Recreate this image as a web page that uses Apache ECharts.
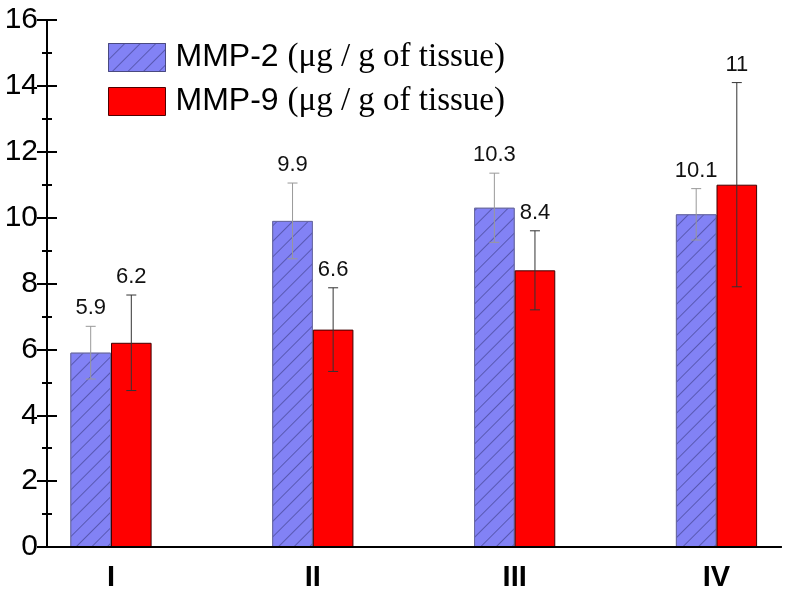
<!DOCTYPE html>
<html><head><meta charset="utf-8">
<script src="https://cdn.jsdelivr.net/npm/echarts@6/dist/echarts.min.js"></script>
<style>html,body{margin:0;padding:0;background:#fff}#c{width:786px;height:603px}</style>
</head><body><div id="c"></div>
<script>
const categories = ['I', 'II', 'III', 'IV'];
const mmp2 = [5.9, 9.9, 10.3, 10.1];
const mmp9 = [6.2, 6.6, 8.4, 11];
const mmp2Err = [0.8, 1.15, 1.05, 0.78];
const mmp9Err = [1.45, 1.27, 1.2, 3.1];
const mmp2Labels = ['5.9', '9.9', '10.3', '10.1'];
const mmp9Labels = ['6.2', '6.6', '8.4', '11'];
const yTicks = [0, 16, 2];

const BW = 40.6;
const chart = echarts.init(document.getElementById('c'), null, {renderer: 'canvas'});

function errSeries(name, vals, errs, labels, side, color) {
  return {
    type: 'custom', name: name + '_err', xAxisIndex: 0, yAxisIndex: 0, z: 5,
    data: vals.map((v, i) => [i, v, errs[i], labels[i]]),
    renderItem: function (params, api) {
      const i = api.value(0), v = api.value(1), e = api.value(2);
      const top = api.coord([i, v + e]);
      const bot = api.coord([i, v - e]);
      const x = top[0] + side * BW / 2;
      const style = {stroke: color, lineWidth: 1};
      return {type: 'group', children: [
        {type: 'line', shape: {x1: x, y1: top[1], x2: x, y2: bot[1]}, style},
        {type: 'line', shape: {x1: x - 5, y1: top[1], x2: x + 5, y2: top[1]}, style},
        {type: 'line', shape: {x1: x - 5, y1: bot[1], x2: x + 5, y2: bot[1]}, style},
        {type: 'text', x: x, y: top[1] - 7, style: {text: labels[params.dataIndex], fill: '#111',
          font: '22px "Liberation Sans", Arial, sans-serif', align: 'center', verticalAlign: 'bottom'}}
      ]};
    }
  };
}

const hatch = {symbol: 'rect', symbolSize: 1, dashArrayX: [1, 0], dashArrayY: [1, 10],
  rotation: -Math.PI / 4, color: 'rgba(70,70,150,0.7)', backgroundColor: '#8282f5'};

const tickStyle = {color: '#000', width: 2};

chart.setOption({
  animation: false,
  legend: {
    orient: 'vertical', left: 103, top: 36, itemWidth: 57, itemHeight: 28, itemGap: 11,
    icon: 'rect',
    data: [
      {name: 'MMP-2', itemStyle: {color: '#8282f5', borderColor: '#4a4a80', borderWidth: 1, decal: hatch}},
      {name: 'MMP-9', itemStyle: {color: '#ff0000', borderColor: '#500000', borderWidth: 1}}
    ],
    formatter: n => '{a|' + n + ' }{b|(μg / g of tissue)}',
    textStyle: {
      padding: [0, 0, 0, 5], lineHeight: 30,
      rich: {
        a: {fontFamily: '"Liberation Sans", Arial, sans-serif', fontSize: 32, color: '#000', lineHeight: 30},
        b: {fontFamily: '"Liberation Serif", "Times New Roman", serif', fontSize: 33, color: '#000', lineHeight: 30}
      }
    }
  },
  grid: [
    {left: 111, right: 69.5, top: 20, bottom: 56},
    {left: 47, right: 5, top: 20, bottom: 56}
  ],
  xAxis: [
    {type: 'category', gridIndex: 0, data: categories, boundaryGap: false,
     axisLine: {show: false}, axisTick: {show: false},
     axisLabel: {fontSize: 29, fontWeight: 'bold', color: '#000', margin: 16,
       fontFamily: '"Liberation Sans Narrow", "Liberation Sans", Arial, sans-serif'}},
    {type: 'value', gridIndex: 1, min: 0, max: 1, position: 'bottom', z: 10,
     axisLine: {show: true, lineStyle: {color: '#000', width: 2}}, axisTick: {show: false},
     axisLabel: {show: false}, splitLine: {show: false}},
    {type: 'value', gridIndex: 1, min: 0, max: 1, position: 'top', z: 10,
     axisLine: {show: true, lineStyle: {color: '#000', width: 2}}, axisTick: {show: false},
     axisLabel: {show: false}, splitLine: {show: false}}
  ],
  yAxis: [
    {type: 'value', gridIndex: 0, min: yTicks[0], max: yTicks[1], interval: yTicks[2], show: false},
    {type: 'value', gridIndex: 1, min: yTicks[0], max: yTicks[1], interval: yTicks[2], position: 'left', z: 10,
     axisLine: {show: true, lineStyle: {color: '#000', width: 2}},
     axisTick: {show: true, inside: true, length: 10, lineStyle: tickStyle},
     minorTick: {show: true, splitNumber: 2, length: 5, lineStyle: tickStyle},
     axisLabel: {fontSize: 30, color: '#000', margin: 9, inside: false, fontFamily: '"Liberation Sans", Arial, sans-serif'},
     splitLine: {show: false}},
    {type: 'value', gridIndex: 1, min: yTicks[0], max: yTicks[1], interval: yTicks[2], position: 'right', z: 10,
     axisLine: {show: true, lineStyle: {color: '#000', width: 2}},
     axisTick: {show: true, inside: true, length: 10, lineStyle: tickStyle},
     minorTick: {show: true, splitNumber: 2, length: 5, lineStyle: tickStyle},
     axisLabel: {show: false}, splitLine: {show: false}}
  ],
  series: [
    {type: 'bar', name: 'MMP-2', xAxisIndex: 0, yAxisIndex: 0, data: mmp2, barWidth: BW, barGap: '0%',
     itemStyle: {color: '#8282f5', borderColor: '#6a6aa0', borderWidth: 1, decal: hatch}},
    {type: 'bar', name: 'MMP-9', xAxisIndex: 0, yAxisIndex: 0, data: mmp9, barWidth: BW, barGap: '0%',
     itemStyle: {color: '#ff0000', borderColor: '#400000', borderWidth: 1}},
    errSeries('MMP-2', mmp2, mmp2Err, mmp2Labels, -1, '#999'),
    errSeries('MMP-9', mmp9, mmp9Err, mmp9Labels, 1, '#333')
  ]
});
</script></body></html>
